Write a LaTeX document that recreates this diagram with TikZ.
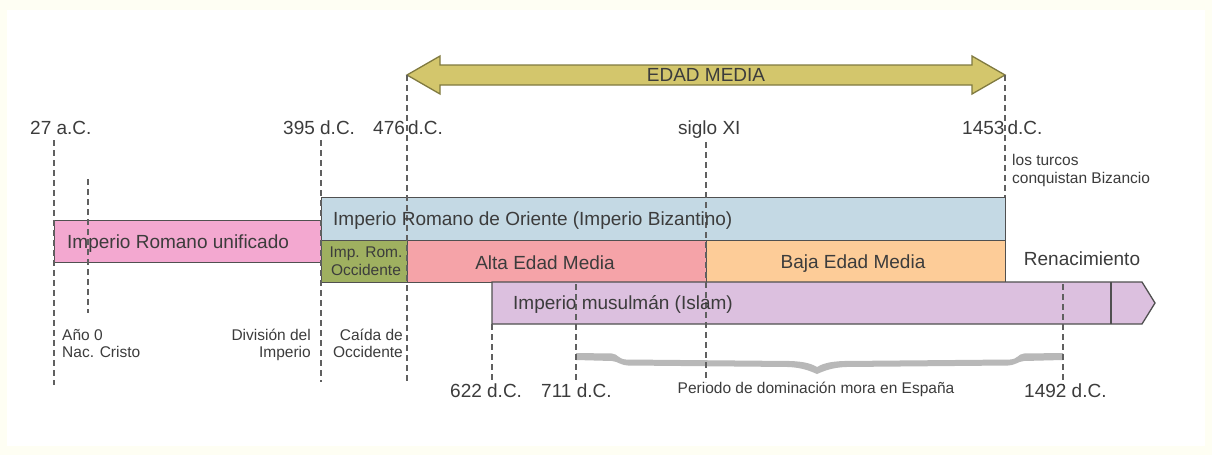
\documentclass[tikz,border=0pt]{standalone}
\usepackage{fontspec}
\setmainfont{Liberation Sans}
\definecolor{bgc}{HTML}{FEFEF3}
\definecolor{txt}{HTML}{3C3C3C}
\definecolor{edge}{HTML}{505050}
\definecolor{dashc}{HTML}{606060}
\definecolor{pinkc}{HTML}{F3A8D0}
\definecolor{bluec}{HTML}{C4D9E4}
\definecolor{greenc}{HTML}{9FB060}
\definecolor{salmc}{HTML}{F5A3A8}
\definecolor{orc}{HTML}{FDCC98}
\definecolor{lilc}{HTML}{DCC0DF}
\definecolor{arrc}{HTML}{D3C66C}
\definecolor{arredge}{HTML}{807A40}
\definecolor{bracec}{HTML}{B8B8B8}
\begin{document}
\begin{tikzpicture}[x=1pt,y=-1pt,
  box/.style={draw=edge,line width=1.3pt,inner sep=0pt,anchor=north west},
  big/.style={text=txt,inner sep=0pt,font=\fontsize{19}{22}\selectfont},
  small/.style={text=txt,inner sep=0pt,font=\fontsize{15.5}{17}\selectfont,align=left},
  dl/.style={draw=dashc,line width=1.2pt,dash pattern=on 6pt off 4pt}]
\useasboundingbox (0,0) rectangle (1212,455);
\fill[bgc] (0,0) rectangle (1212,455);
\fill[white] (7,10) rectangle (1205,446);

% EDAD MEDIA arrow
\coordinate (aL) at (407,75);
\coordinate (aR) at (1005,75);
\draw[arredge,fill=arrc,line width=1.3pt,line join=miter]
  (aL) -- (440,56) -- (440,65) -- (972,65) -- (972,56) -- (aR) -- (972,94) -- (972,85) -- (440,85) -- (440,94) -- cycle;
\node[big] (em) at (706,75) {EDAD MEDIA};

% boxes
\node[box,fill=pinkc,minimum width=267pt,minimum height=42pt] (rom) at (54,220) {};
\node[box,fill=bluec,minimum width=684pt,minimum height=43pt] (biz) at (321,197) {};
\node[box,fill=greenc,minimum width=86pt,minimum height=42pt] (occ) at (321,240) {};
\node[box,fill=salmc,minimum width=299pt,minimum height=42pt] (alta) at (407,240) {};
\node[box,fill=orc,minimum width=299pt,minimum height=42pt] (baja) at (706,240) {};
\draw[edge,fill=lilc,line width=1.3pt] (492,282) -- (1142,282) -- (1155,303) -- (1142,324) -- (492,324) -- cycle;
\draw[edge,line width=1.3pt] (1111,282) -- (1111,324);

% brace
\fill[bracec] (576,353) -- (612,353.5) .. controls (618,354) and (618,359) .. (626,359.5) -- (790,361) .. controls (805,361.5) and (812,364) .. (817,367) .. controls (822,364) and (829,361.5) .. (844,361) -- (1010,359.5) .. controls (1018,359) and (1018,354) .. (1024,353.5) -- (1063,353) -- (1063,360) -- (1024,361) .. controls (1018,361.5) and (1016,365) .. (1008,365.5) -- (846,367) .. controls (832,367.5) and (824,371) .. (817,374) .. controls (810,371) and (802,367.5) .. (788,367) -- (628,365.5) .. controls (620,365) and (618,361.5) .. (612,361) -- (576,360) -- cycle;

% dashed guide lines
\draw[dl] (54,140) -- (54,385);
\draw[dl] (88,179) -- (88,313);
\draw[dl] (321,140) -- (321,382);
\draw[dl] (aL) -- (407,382);
\draw[dl] (706,142) -- (706,382);
\draw[dl] (aR) -- (1005,197);
\draw[dl] (492,324) -- (492,382);
\draw[dl] (576,284) -- (576,382);
\draw[dl] (1063,284) -- (1063,385);

% top labels
\node[big,anchor=base west] (l27) at (30,134) {27 a.C.};
\node[big,anchor=base west] (l395) at (283,134) {395 d.C.};
\node[big,anchor=base west] (l476) at (373,134) {476\,d.C.};
\node[big,anchor=base west] (lxi) at (678,134) {siglo XI};
\node[big,anchor=base west] (l1453) at (962,134) {1453\,d.C.};
\node[small,anchor=base west] (turc) at (1012,165) {los turcos};
\node[small,anchor=base west] (conq) at (1012,183) {conquistan Bizancio};

% box labels
\node[big,anchor=base west] (trom) at (67,248) {Imperio Romano unificado};
\node[big,anchor=base west] (tbiz) at (333,225) {Imperio Romano de Oriente (Imperio Bizantino)};
\node[small,anchor=base] (tocc1) at (366,257) {Imp. Rom.};
\node[small,anchor=base] (tocc2) at (366,275) {Occidente};
\node[big,anchor=base] (talta) at (545,269) {Alta Edad Media};
\node[big,anchor=base] (tbaja) at (853,268) {Baja Edad Media};
\node[big,anchor=base] (tren) at (1082,265) {Renacimiento};
\node[big,anchor=base west] (tisl) at (513,309) {Imperio musulmán (Islam)};

% lower labels
\node[small,anchor=base west] (a0) at (62,340) {Año 0};
\node[small,anchor=base west] (nac) at (62,357) {Nac. Cristo};
\node[small,anchor=base east] (div1) at (311,340) {División del};
\node[small,anchor=base east] (div2) at (311,357) {Imperio};
\node[small,anchor=base east] (cai1) at (403,340) {Caída de};
\node[small,anchor=base east] (cai2) at (403,357) {Occidente};
\node[big,anchor=base west] (l622) at (450,397) {622 d.C.};
\node[big,anchor=base west] (l711) at (541,397) {711 d.C.};
\node[small,anchor=base] (per) at (816,393) {Periodo de dominación mora en España};
\node[big,anchor=base west] (l1492) at (1024,397) {1492 d.C.};
\end{tikzpicture}
\end{document}
